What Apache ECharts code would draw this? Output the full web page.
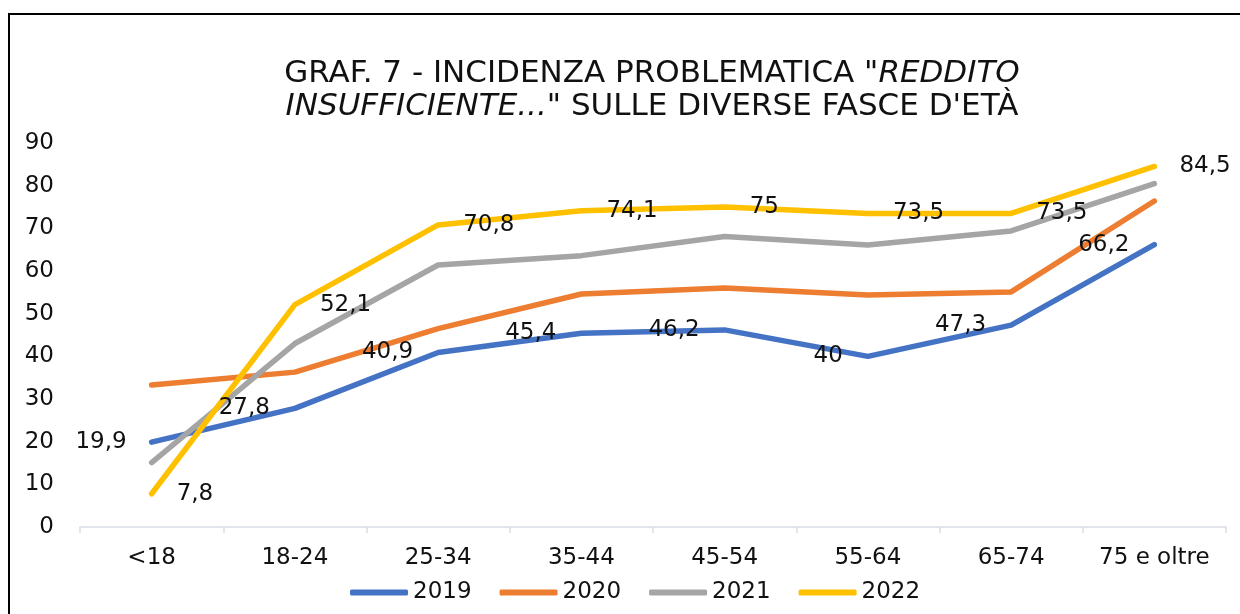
<!DOCTYPE html>
<html>
<head>
<meta charset="utf-8">
<script src="https://cdn.jsdelivr.net/npm/echarts@6/dist/echarts.min.js"></script>
<style>
html,body{margin:0;padding:0;background:#fff;overflow:hidden;}
#chart{position:absolute;left:0;top:0;width:1240px;height:614px;}
#frame{position:absolute;left:8px;top:13px;width:1400px;height:800px;border-left:2px solid #000;border-top:2px solid #000;pointer-events:none;}
</style>
</head>
<body>
<div id="chart"></div>
<div id="frame"></div>
<script>
const categories = ['<18', '18-24', '25-34', '35-44', '45-54', '55-64', '65-74', '75 e oltre'];
const s2019 = [19.9, 27.8, 40.9, 45.4, 46.2, 40, 47.3, 66.2];
const s2020 = [33.3, 36.3, 46.5, 54.6, 56.0, 54.4, 55.1, 76.4];
const s2021 = [15.1, 43.0, 61.4, 63.6, 68.1, 66.1, 69.4, 80.5];
const s2022 = [7.8, 52.1, 70.8, 74.1, 75, 73.5, 73.5, 84.5];
const yTicks = [0, 10, 20, 30, 40, 50, 60, 70, 80, 90];

const FONT = 'DejaVu Sans';
const fmt = p => String(p.value).replace('.', ',');

function mkSeries(name, data, color, labelPos) {
  return {
    name: name,
    type: 'line',
    data: data,
    symbol: 'circle',
    symbolSize: 2,
    showSymbol: true,
    itemStyle: { color: color },
    lineStyle: { width: 5.5, color: color, cap: 'round', join: 'round' },
    emphasis: { disabled: true },
    label: labelPos ? {
      show: true, position: labelPos, distance: 24,
      formatter: fmt, color: '#111', fontFamily: FONT, fontSize: 23
    } : { show: false },
    z: 2
  };
}

const chart = echarts.init(document.getElementById('chart'), null, { renderer: 'canvas' });
chart.setOption({
  animation: false,
  backgroundColor: 'transparent',
  graphic: [{
    type: 'text',
    x: 652, y: 57,
    style: {
      text: 'GRAF. 7 - INCIDENZA PROBLEMATICA {i|"REDDITO}\n{i|INSUFFICIENTE...}" SULLE DIVERSE FASCE D\'ETÀ',
      fill: '#111',
      font: '31px "DejaVu Sans"',
      textAlign: 'center',
      lineHeight: 33,
      rich: {
        i: { fontStyle: 'italic', fontFamily: 'DejaVu Sans', fontSize: 31, fill: '#111', lineHeight: 33 }
      }
    }
  }],
  grid: { left: 80, right: 14, top: 143, bottom: 87, containLabel: false },
  legend: {
    data: ['2019', '2020', '2021', '2022'],
    top: 576,
    left: 345,
    icon: 'roundRect',
    itemWidth: 58,
    itemHeight: 6,
    itemGap: 28,
    textStyle: { fontFamily: FONT, fontSize: 23, color: '#111' }
  },
  xAxis: {
    type: 'category',
    data: categories,
    boundaryGap: true,
    axisLine: { show: true, lineStyle: { color: '#D9DDE6', width: 1.5 } },
    axisTick: { show: true, alignWithLabel: false, length: 6, lineStyle: { color: '#D9DDE6', width: 1.5 } },
    axisLabel: { fontFamily: FONT, fontSize: 23, color: '#111', margin: 20, interval: 0 },
    splitLine: { show: false }
  },
  yAxis: {
    type: 'value',
    min: yTicks[0],
    max: yTicks[yTicks.length - 1],
    interval: 10,
    axisLine: { show: false },
    axisTick: { show: false },
    splitLine: { show: false },
    axisLabel: { fontFamily: FONT, fontSize: 23, color: '#111', margin: 26 }
  },
  series: [
    mkSeries('2019', s2019, '#4472C4', 'left'),
    mkSeries('2020', s2020, '#ED7D31', null),
    mkSeries('2021', s2021, '#A5A5A5', null),
    mkSeries('2022', s2022, '#FFC000', 'right')
  ]
});
</script>
</body>
</html>
